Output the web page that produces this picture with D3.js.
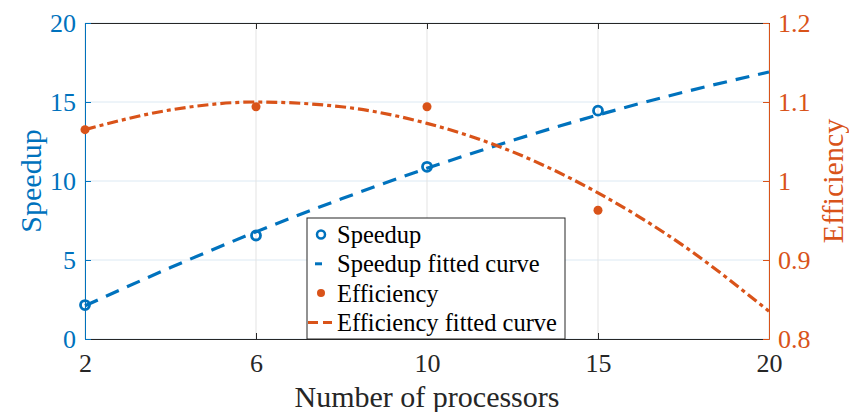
<!DOCTYPE html>
<html>
<head>
<meta charset="utf-8">
<script src="https://cdn.jsdelivr.net/npm/d3@7"></script>
<style>
  body { margin: 0; background: #fff; }
</style>
</head>
<body>
<div id="chart"></div>
<script>
// data
const processors = [2, 6, 10, 15, 20];
const speedup = [2.15, 6.55, 10.9, 14.45];            // measured, at processors 2..15
const efficiency = [1.065, 1.094, 1.094, 0.963];      // measured, at processors 2..15
// fitted curves sampled along the (evenly spaced) x index 1..5
const fitIndex = [1, 1.5, 2, 2.5, 3, 3.5, 4, 4.5, 5];
const speedupFit = [2.10, 4.52, 6.78, 8.87, 10.80, 12.57, 14.18, 15.62, 16.90];
const efficiencyFit = [1.065, 1.090, 1.100, 1.094, 1.073, 1.037, 0.985, 0.918, 0.835];
const leftTicks = [0, 5, 10, 15, 20];
const rightTicks = [0.8, 0.9, 1.0, 1.1, 1.2];

const blue = "#0072BD";
const orange = "#D95319";
const serif = "Liberation Serif";
const width = 849, height = 412;
const margin = {top: 23, right: 80, bottom: 73, left: 85};
const w = width - margin.left - margin.right;
const h = height - margin.top - margin.bottom;

const svg = d3.select("#chart").append("svg")
    .attr("width", width)
    .attr("height", height);
const g = svg.append("g")
    .attr("transform", "translate(" + margin.left + "," + margin.top + ")");

const x = d3.scaleLinear().domain([1, 5]).range([0, w]);
const yL = d3.scaleLinear().domain([0, 20]).range([h, 0]);
const yR = d3.scaleLinear().domain([0.8, 1.2]).range([h, 0]);

// grid
g.selectAll("line.hgrid").data(leftTicks).enter().append("line")
    .attr("x1", 0).attr("x2", w)
    .attr("y1", d => yL(d)).attr("y2", d => yL(d))
    .style("stroke", "#dce9f3").style("stroke-width", 1);
g.selectAll("line.vgrid").data(processors).enter().append("line")
    .attr("x1", (d, i) => x(i + 1)).attr("x2", (d, i) => x(i + 1))
    .attr("y1", 0).attr("y2", h)
    .style("stroke", "#e3e3e3").style("stroke-width", 1);

// bottom axis
const xAxis = d3.axisBottom(x)
    .tickValues([1, 2, 3, 4, 5])
    .tickFormat((d, i) => processors[i])
    .tickSizeInner(-6).tickSizeOuter(0).tickPadding(15);
const gx = g.append("g").attr("transform", "translate(0," + h + ")").call(xAxis);
gx.select(".domain").style("stroke", "#262626");
gx.selectAll(".tick line").style("stroke", "#262626");
gx.selectAll("text").style("font-family", serif).style("font-size", "26px").style("fill", "#262626");

// top axis
const gxt = g.append("g").call(d3.axisTop(x).tickValues([1, 2, 3, 4, 5]).tickFormat("").tickSizeInner(-6).tickSizeOuter(0));
gxt.select(".domain").style("stroke", "#262626");
gxt.selectAll(".tick line").style("stroke", "#262626");

// left axis
const gl = g.append("g").call(d3.axisLeft(yL).tickValues(leftTicks).tickSizeInner(-6).tickSizeOuter(0).tickPadding(9));
gl.select(".domain").style("stroke", blue);
gl.selectAll(".tick line").style("stroke", blue);
gl.selectAll("text").style("font-family", serif).style("font-size", "26px").style("fill", blue);

// right axis
const gr = g.append("g").attr("transform", "translate(" + w + ",0)")
    .call(d3.axisRight(yR).tickValues(rightTicks).tickFormat(d => d === 1 ? "1" : d3.format(".1f")(d))
        .tickSizeInner(-6).tickSizeOuter(0).tickPadding(9));
gr.select(".domain").style("stroke", orange);
gr.selectAll(".tick line").style("stroke", orange);
gr.selectAll("text").style("font-family", serif).style("font-size", "26px").style("fill", orange);

// axis labels
svg.append("text")
    .attr("x", margin.left + w / 2).attr("y", 407)
    .attr("text-anchor", "middle")
    .style("font-family", serif).style("font-size", "30px").style("fill", "#262626")
    .text("Number of processors");
svg.append("text")
    .attr("transform", "translate(41," + (margin.top + h / 2) + ") rotate(-90)")
    .attr("text-anchor", "middle")
    .style("font-family", serif).style("font-size", "30px").style("fill", blue)
    .text("Speedup");
svg.append("text")
    .attr("transform", "translate(843," + (margin.top + h / 2) + ") rotate(-90)")
    .attr("text-anchor", "middle")
    .style("font-family", serif).style("font-size", "30px").style("fill", orange)
    .text("Efficiency");

// fitted curves
const lineL = d3.line().x((d, i) => x(fitIndex[i])).y(d => yL(d)).curve(d3.curveMonotoneX);
const lineR = d3.line().x((d, i) => x(fitIndex[i])).y(d => yR(d)).curve(d3.curveMonotoneX);

g.append("path").datum(speedupFit)
    .attr("d", lineL)
    .style("fill", "none").style("stroke", blue).style("stroke-width", 3.2)
    .style("stroke-dasharray", "14,9");
g.append("path").datum(efficiencyFit)
    .attr("d", lineR)
    .style("fill", "none").style("stroke", orange).style("stroke-width", 3.2)
    .style("stroke-dasharray", "11,4,4,4");

// measured points
g.selectAll("circle.sp").data(speedup).enter().append("circle")
    .attr("cx", (d, i) => x(i + 1)).attr("cy", d => yL(d)).attr("r", 4.5)
    .style("fill", "none").style("stroke", blue).style("stroke-width", 2.8);
g.selectAll("circle.ef").data(efficiency).enter().append("circle")
    .attr("cx", (d, i) => x(i + 1)).attr("cy", d => yR(d)).attr("r", 4.5)
    .style("fill", orange);

// legend
const legend = svg.append("g").attr("transform", "translate(307,218)");
legend.append("rect")
    .attr("width", 258).attr("height", 121)
    .style("fill", "#fff").style("stroke", "#262626").style("stroke-width", 1);
const rows = [
    {label: "Speedup", type: "open"},
    {label: "Speedup fitted curve", type: "dash"},
    {label: "Efficiency", type: "dot"},
    {label: "Efficiency fitted curve", type: "dashdot"}
];
rows.forEach((r, i) => {
    const cy = 16.5 + i * 29.3;
    if (r.type === "open") {
        legend.append("circle").attr("cx", 14).attr("cy", cy).attr("r", 4)
            .style("fill", "none").style("stroke", blue).style("stroke-width", 2.5);
    } else if (r.type === "dot") {
        legend.append("circle").attr("cx", 14).attr("cy", cy).attr("r", 4).style("fill", orange);
    } else if (r.type === "dash") {
        legend.append("line").attr("x1", 8).attr("x2", 15).attr("y1", cy).attr("y2", cy)
            .style("stroke", blue).style("stroke-width", 3);
    } else {
        legend.append("line").attr("x1", 1).attr("x2", 25).attr("y1", cy).attr("y2", cy)
            .style("stroke", orange).style("stroke-width", 3).style("stroke-dasharray", "10,5");
    }
    legend.append("text").attr("x", 30).attr("y", cy + 8.5)
        .style("font-family", serif).style("font-size", "24.5px").style("fill", "#000")
        .text(r.label);
});
</script>
</body>
</html>
